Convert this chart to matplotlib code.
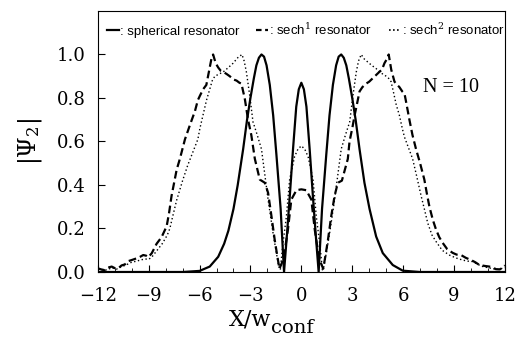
import matplotlib
matplotlib.use("Agg")
import matplotlib.pyplot as plt
from matplotlib.lines import Line2D
from matplotlib.ticker import MultipleLocator

# spherical resonator (solid)
x_sph = [-12, -7.0, -6.0, -5.4, -4.9, -4.55, -4.3, -4.0, -3.75, -3.43, -3.2, -3.0,
         -2.8, -2.65, -2.5, -2.35, -2.2, -2.05, -1.86, -1.66, -1.47, -1.22, -1.02,
         -0.85, -0.68, -0.49, -0.3, -0.15, 0.0, 0.15, 0.3, 0.49, 0.68, 0.85, 1.02,
         1.22, 1.47, 1.66, 1.86, 2.05, 2.2, 2.35, 2.5, 2.65, 2.8, 3.0, 3.2, 3.43,
         3.72, 4.02, 4.41, 4.8, 5.39, 5.98, 7.0, 12]
y_sph = [0.0, 0.0, 0.005, 0.025, 0.07, 0.13, 0.19, 0.29, 0.40, 0.565, 0.70, 0.80,
         0.89, 0.95, 0.985, 1.0, 0.99, 0.95, 0.86, 0.72, 0.54, 0.29, 0.0,
         0.17, 0.35, 0.565, 0.76, 0.84, 0.87, 0.84, 0.76, 0.565, 0.35, 0.17, 0.0,
         0.29, 0.54, 0.72, 0.86, 0.95, 0.99, 1.0, 0.985, 0.95, 0.89, 0.80, 0.70, 0.565,
         0.41, 0.29, 0.163, 0.087, 0.032, 0.006, 0.0, 0.0]

# sech^1 resonator (dashed)
x_s1 = [-12, -11.8, -11.57, -11.4, -11.18, -11.0, -10.79, -10.6, -10.4, -10.2, -10.0,
        -9.7, -9.5, -9.32, -9.15, -9.02, -8.82, -8.53, -8.24, -7.94, -7.8, -7.65,
        -7.5, -7.35, -7.16, -6.86, -6.57, -6.27, -6.1, -5.98, -5.79, -5.6, -5.45,
        -5.3, -5.2, -5.05, -4.9, -4.75, -4.6, -4.4, -4.22, -4.0, -3.82, -3.65,
        -3.53, -3.43, -3.34, -3.24, -3.14, -2.95, -2.74, -2.45, -2.15, -1.96,
        -1.76, -1.57, -1.41, -1.29, -1.08, -0.94, -0.79, -0.59, -0.29, 0.0, 0.29,
        0.59, 0.79, 0.94, 1.08, 1.29, 1.41, 1.57, 1.76, 1.96, 2.15, 2.39, 2.74,
        2.84, 3.0, 3.14, 3.3, 3.43, 3.6, 3.82, 4.0, 4.2, 4.4, 4.6, 4.75, 4.9, 5.05,
        5.15, 5.3, 5.49, 5.65, 5.78, 5.95, 6.08, 6.18, 6.37, 6.55, 6.76, 7.0, 7.25,
        7.4, 7.55, 7.75, 7.94, 8.13, 8.33, 8.6, 8.92, 9.15, 9.41, 9.7, 10.0, 10.25,
        10.5, 10.8, 11.08, 11.3, 11.47, 11.7, 12]
y_s1 = [0.017, 0.012, 0.008, 0.02, 0.025, 0.018, 0.017, 0.03, 0.035, 0.05, 0.055,
        0.063, 0.07, 0.078, 0.075, 0.068, 0.086, 0.13, 0.16, 0.21, 0.27, 0.35,
        0.41, 0.47, 0.52, 0.61, 0.675, 0.74, 0.79, 0.81, 0.84, 0.86, 0.92,
        0.98, 1.0, 0.96, 0.94, 0.925, 0.92, 0.91, 0.90, 0.885, 0.88, 0.87,
        0.866, 0.83, 0.80, 0.75, 0.70, 0.63, 0.52, 0.425, 0.41, 0.364,
        0.256, 0.148, 0.07, 0.015, 0.055, 0.117, 0.195, 0.333, 0.376, 0.38, 0.376,
        0.333, 0.195, 0.117, 0.055, 0.015, 0.07, 0.148, 0.256, 0.35, 0.41, 0.42, 0.52,
        0.60, 0.66, 0.72, 0.78, 0.83, 0.85, 0.866, 0.875, 0.89, 0.905, 0.92, 0.93, 0.96, 0.98,
        1.0, 0.93, 0.875, 0.86, 0.85, 0.83, 0.82, 0.78, 0.70, 0.63, 0.565, 0.50, 0.425,
        0.36, 0.30, 0.24, 0.195, 0.16, 0.134, 0.105, 0.088, 0.08, 0.078, 0.065, 0.055, 0.045,
        0.032, 0.028, 0.025, 0.02, 0.013, 0.012, 0.03]

# sech^2 resonator (dotted)
x_s2 = [-12, -11.8, -11.57, -11.3, -11.18, -10.9, -10.6, -10.4, -10.0, -9.7, -9.5,
        -9.2, -9.0, -8.8, -8.5, -8.2, -7.9, -7.75, -7.6, -7.35, -7.0, -6.7, -6.4,
        -6.1, -5.98, -5.8, -5.59, -5.4, -5.25, -5.1, -4.85, -4.6, -4.3, -4.02,
        -3.75, -3.5, -3.37, -3.24, -3.04, -2.85, -2.6, -2.35, -1.96, -1.67, -1.47,
        -1.33, -1.24, -1.1, -0.88, -0.69, -0.4, -0.2, 0.0, 0.2, 0.4, 0.69, 0.88,
        1.1, 1.24, 1.33, 1.47, 1.67, 1.96, 2.35, 2.6, 2.85, 3.04, 3.24, 3.37, 3.53,
        3.7, 3.92, 4.15, 4.41, 4.7, 5.0, 5.15, 5.29, 5.45, 5.59, 5.78, 5.95, 6.08,
        6.37, 6.56, 6.8, 7.06, 7.25, 7.45, 7.7, 7.94, 8.3, 8.72, 9.1, 9.5, 9.8,
        10.1, 10.4, 10.7, 11.0, 11.3, 11.6, 12]
y_s2 = [0.015, 0.01, 0.008, 0.015, 0.02, 0.013, 0.025, 0.03, 0.045, 0.05, 0.055,
        0.06, 0.058, 0.07, 0.10, 0.13, 0.17, 0.20, 0.25, 0.33, 0.42, 0.49, 0.55,
        0.61, 0.66, 0.72, 0.79, 0.84, 0.88, 0.90, 0.91, 0.92, 0.94, 0.96,
        0.985, 1.0, 0.97, 0.92, 0.81, 0.69, 0.63, 0.565, 0.333, 0.18, 0.087,
        0.025, 0.01, 0.12, 0.256, 0.425, 0.53, 0.565, 0.58, 0.565, 0.53, 0.425, 0.256,
        0.12, 0.01, 0.025, 0.087, 0.18, 0.333, 0.565, 0.63, 0.69, 0.81, 0.92, 0.97, 1.0,
        0.98, 0.965, 0.95, 0.935, 0.915, 0.90, 0.89, 0.875, 0.82, 0.77, 0.72, 0.66, 0.62,
        0.56, 0.52, 0.44, 0.35, 0.29, 0.225, 0.17, 0.14, 0.10, 0.078, 0.065, 0.055, 0.05,
        0.048, 0.035, 0.025, 0.02, 0.015, 0.012, 0.02]

x_ticks = [-12, -9, -6, -3, 0, 3, 6, 9, 12]
y_ticks = [0.0, 0.2, 0.4, 0.6, 0.8, 1.0]

plt.rcParams["mathtext.fontset"] = "dejavuserif"

fig = plt.figure(figsize=(5.2, 3.43), dpi=100)
ax = fig.add_axes([0.188, 0.207, 0.783, 0.761])

ax.plot(x_sph, y_sph, color="black", lw=1.6, linestyle="-")
ax.plot(x_s1, y_s1, color="black", lw=1.6, linestyle=(0, (3.5, 1.8)))
ax.plot(x_s2, y_s2, color="black", lw=1.0, linestyle=(0, (1, 1.8)))

ax.set_xlim(-12, 12)
ax.set_ylim(0, 1.2)
ax.set_xticks(x_ticks)
ax.set_yticks(y_ticks)
ax.set_xticklabels([str(t).replace("-", "\u2212") for t in x_ticks])
ax.set_yticklabels([f"{t:.1f}" for t in y_ticks])
ax.xaxis.set_minor_locator(MultipleLocator(1))
ax.tick_params(which="both", direction="in", top=False, right=False)
ax.tick_params(which="major", length=5, width=0.8, labelsize=13)
ax.tick_params(axis="x", which="major", pad=11)
ax.tick_params(axis="y", which="major", pad=9)
ax.tick_params(which="minor", length=3, width=0.6)
for lab in ax.get_xticklabels() + ax.get_yticklabels():
    lab.set_family("DejaVu Serif")
for sp in ax.spines.values():
    sp.set_linewidth(0.8)

# x label: "X/w" with a large "conf" subscript
ax.text(0.425, -0.205, "X/w", transform=ax.transAxes, family="DejaVu Serif",
        fontsize=16, ha="right", va="baseline")
ax.text(0.425, -0.232, "conf", transform=ax.transAxes, family="DejaVu Serif",
        fontsize=14, ha="left", va="baseline")
ax.set_ylabel(r"$|\Psi_2|$", fontsize=17, labelpad=9)

ax.text(7.2, 0.85, "N = 10", family="Liberation Serif", fontsize=14.5, va="center")

handles = [Line2D([], [], color="black", lw=1.6, linestyle="-"),
           Line2D([], [], color="black", lw=1.6, linestyle=(0, (2.5, 1.6))),
           Line2D([], [], color="black", lw=1.2, linestyle=(0, (1, 1.4)))]
labels = [": spherical resonator", r": sech$^1$ resonator", r": sech$^2$ resonator"]
leg = ax.legend(handles, labels, loc="center left", bbox_to_anchor=(0.022, 0.927),
                ncol=3, frameon=False, handlelength=0.9, handletextpad=0.1,
                columnspacing=1.25, borderaxespad=0.0, borderpad=0.0,
                prop={"family": "Liberation Sans", "size": 9.5})

fig.savefig("out.png", dpi=100)
